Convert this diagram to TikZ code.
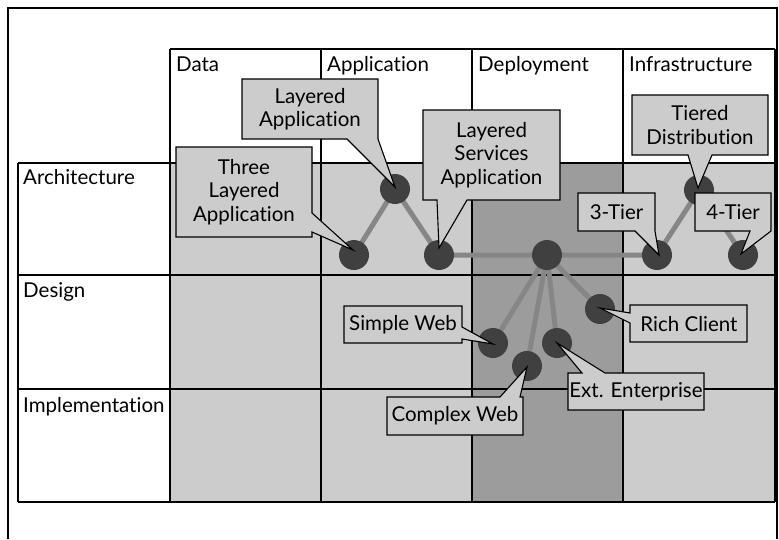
\documentclass[tikz,border=0pt]{standalone}
\usepackage{fontspec}
\setmainfont{Lato}[Ligatures=NoCommon]
\definecolor{cellgray}{HTML}{CCCCCC}
\definecolor{deploygray}{HTML}{9C9C9C}
\definecolor{dotgray}{HTML}{404040}
\definecolor{conngray}{HTML}{868686}
\begin{document}
\begin{tikzpicture}[x=1pt,y=-1pt,
  gridline/.style={draw=black,line width=1.1pt},
  hdr/.style={font=\fontsize{20.5}{23.5}\selectfont,inner sep=0pt,anchor=base west},
  dot/.style={circle,fill=dotgray,minimum size=30pt,inner sep=0pt},
  conn/.style={draw=conngray,line width=5pt},
  callout/.style={fill=cellgray,draw=black,line width=1.1pt,line join=miter},
  ctext/.style={font=\fontsize{20.5}{23.5}\selectfont,align=center,inner sep=0pt}]
\useasboundingbox (0,0) rectangle (779,539);
% outer frame (open at the bottom)
\draw[line width=1.1pt] (8,539) -- (8,8) -- (777,8) -- (777,539);
% cell fills
\fill[cellgray] (170,163) rectangle (775,502);
\fill[deploygray] (472,163) rectangle (623,502);
% grid
\draw[gridline] (170,49) -- (775,49);
\foreach \yy in {163,275,389,502} {\draw[gridline] (18,\yy) -- (775,\yy);}
\foreach \xx in {170,321,472,623,775} {\draw[gridline] (\xx,49) -- (\xx,502);}
\draw[gridline] (18,163) -- (18,502);
% header texts
\node[hdr] (hdata) at (176,71) {Data};
\node[hdr] (happ) at (327,71) {Application};
\node[hdr] (hdep) at (478,71) {Deployment};
\node[hdr] (hinf) at (629,71) {Infrastructure};
\node[hdr] (harch) at (23,184) {Architecture};
\node[hdr] (hdes) at (23,297) {Design};
\node[hdr] (himp) at (23,412) {Implementation};
% dot positions
\coordinate (ptla) at (354,255);
\coordinate (pla) at (395,189);
\coordinate (plsa) at (439,255);
\coordinate (pdep) at (547,255);
\coordinate (pt3) at (657,255);
\coordinate (ptd) at (699,190);
\coordinate (pt4) at (743,255);
\coordinate (psw) at (493,343);
\coordinate (pcw) at (527,366);
\coordinate (pee) at (557,343);
\coordinate (prc) at (600,309);
% connectors
\draw[conn] (ptla) -- (pla) -- (plsa) -- (pdep) -- (pt3) -- (ptd) -- (pt4);
\draw[conn] (pdep) -- (psw);
\draw[conn] (pdep) -- (pcw);
\draw[conn] (pdep) -- (pee);
\draw[conn] (pdep) -- (prc);
% dots
\node[dot] (tla) at (ptla) {};
\node[dot] (la) at (pla) {};
\node[dot] (lsa) at (plsa) {};
\node[dot] (dep) at (pdep) {};
\node[dot] (t3) at (pt3) {};
\node[dot] (td) at (ptd) {};
\node[dot] (t4) at (pt4) {};
\node[dot] (sw) at (psw) {};
\node[dot] (cw) at (pcw) {};
\node[dot] (ee) at (pee) {};
\node[dot] (rc) at (prc) {};
% callouts
\draw[callout] (176,147) -- (312,147) -- (312,213) -- (353,250) -- (312,232) -- (312,237) -- (176,237) -- cycle;
\node[ctext] (ctla) at (244,192) {Three\\Layered\\Application};
\draw[callout] (242,79) -- (378,79) -- (378,139) -- (395,187) -- (347,139) -- (242,139) -- cycle;
\node[ctext] (cla) at (310,109) {Layered\\Application};
\draw[callout] (423,110) -- (560,110) -- (560,200) -- (467,200) -- (439,248) -- (437,200) -- (423,200) -- cycle;
\node[ctext] (clsa) at (491.5,155) {Layered\\Services\\Application};
\draw[callout] (632,95) -- (768,95) -- (768,155) -- (712,155) -- (698,188) -- (688,155) -- (632,155) -- cycle;
\node[ctext] (ctd) at (700,125) {Tiered\\Distribution};
\draw[callout] (578,193) -- (655,193) -- (655,231) -- (659,255) -- (635,231) -- (578,231) -- cycle;
\node[ctext] (ct3) at (616.5,212) {3-Tier};
\draw[callout] (695,193) -- (771,193) -- (771,231) -- (741,254) -- (750,231) -- (695,231) -- cycle;
\node[ctext] (ct4) at (733,212) {4-Tier};
\draw[callout] (344,306) -- (462,306) -- (462,327) -- (493,344) -- (462,339) -- (462,343) -- (344,343) -- cycle;
\node[ctext] (csw) at (403,325) {Simple Web};
\draw[callout] (630,305) -- (747,305) -- (747,342) -- (630,342) -- (630,323) -- (600,308) -- (630,313) -- cycle;
\node[ctext] (crc) at (689,324) {Rich Client};
\draw[callout] (568,373) -- (582,373) -- (557,343) -- (605,373) -- (704,373) -- (704,410) -- (568,410) -- cycle;
\node[ctext] (cee) at (636,392) {Ext. Enterprise};
\draw[callout] (387,397) -- (500,397) -- (527,367) -- (520,397) -- (523,397) -- (523,435) -- (387,435) -- cycle;
\node[ctext] (ccw) at (455,416) {Complex Web};
\end{tikzpicture}
\end{document}
